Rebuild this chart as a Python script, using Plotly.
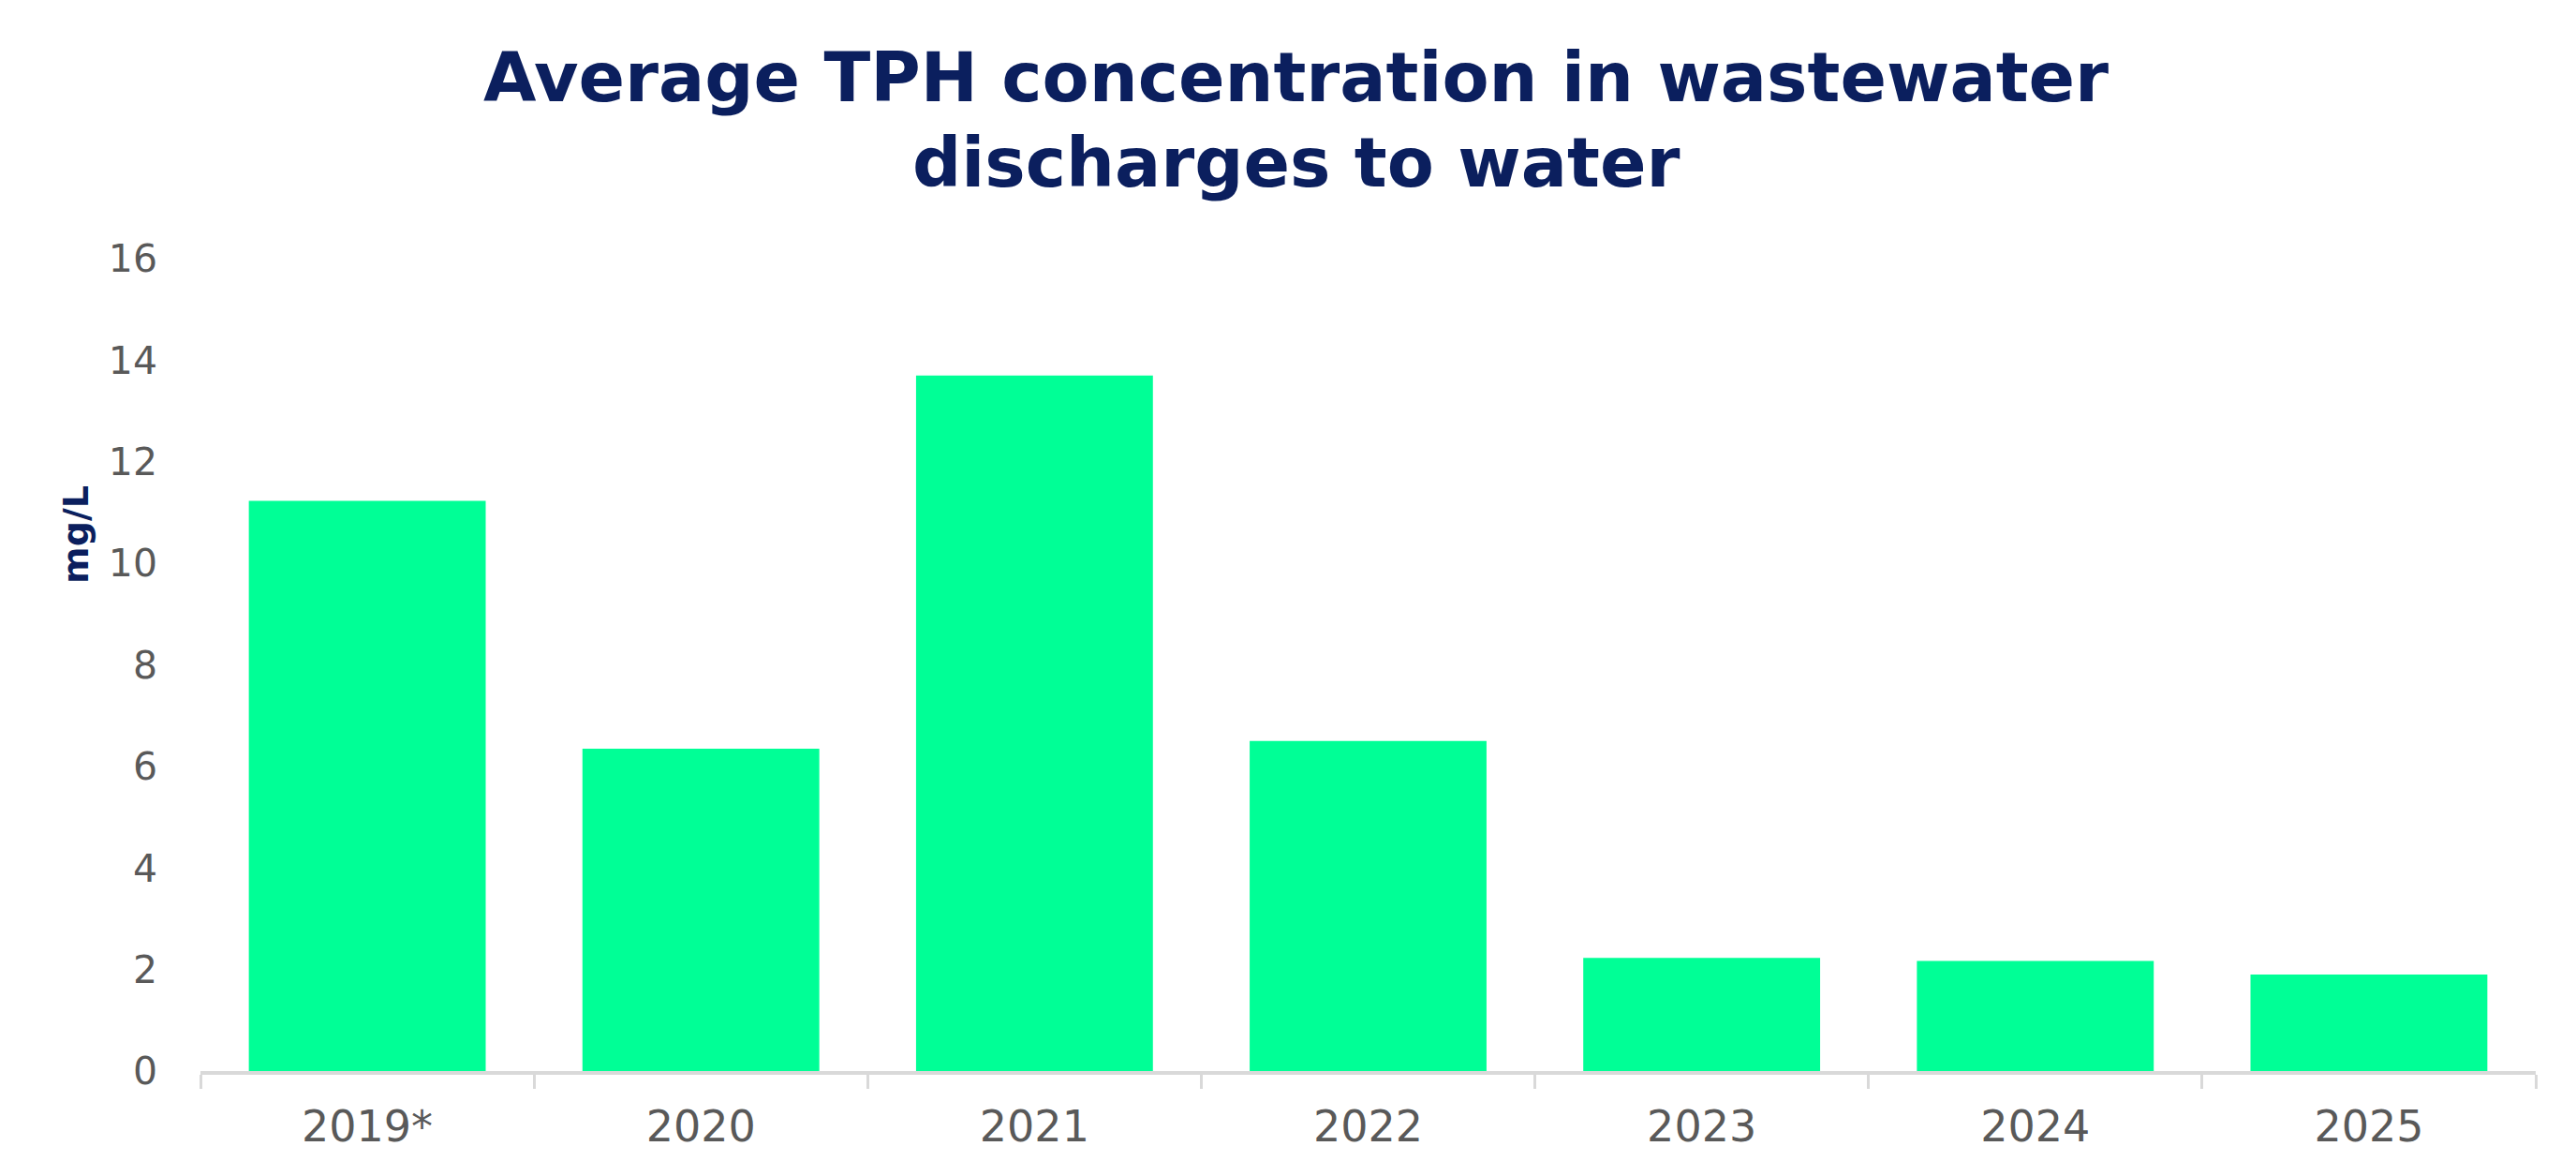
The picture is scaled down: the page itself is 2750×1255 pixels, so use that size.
import plotly.graph_objects as go

years = ["2019*", "2020", "2021", "2022", "2023", "2024", "2025"]
tph_mg_per_l = [11.23, 6.35, 13.7, 6.5, 2.23, 2.17, 1.9]
y_ticks = [0, 2, 4, 6, 8, 10, 12, 14, 16]
title_lines = ["Average TPH concentration in wastewater", "discharges to water"]
y_title = "mg/L"

NAVY = "#0B1F5E"
GREY = "#595959"
BAR = "#00FF96"
AXIS = "#D9D9D9"

fig = go.Figure(
    go.Bar(
        x=years,
        y=tph_mg_per_l,
        marker=dict(color=BAR, line=dict(width=0)),
        hoverinfo="x+y",
    )
)

title_font = dict(family="DejaVu Sans", size=73, color=NAVY, weight="bold")
annotations = [
    dict(text=title_lines[0], xref="paper", yref="paper", x=0.469, y=1.223,
         xanchor="center", yanchor="middle", showarrow=False, font=title_font),
    dict(text=title_lines[1], xref="paper", yref="paper", x=0.469, y=1.118,
         xanchor="center", yanchor="middle", showarrow=False, font=title_font),
    dict(text=y_title, xref="paper", yref="paper", x=-0.0533, y=0.66,
         xanchor="center", yanchor="middle", showarrow=False, textangle=-90,
         font=dict(family="DejaVu Sans", size=38, color=NAVY, weight="bold")),
]

fig.update_layout(
    width=2750,
    height=1255,
    paper_bgcolor="white",
    plot_bgcolor="white",
    bargap=0.29,
    showlegend=False,
    margin=dict(l=206, r=51, t=268, b=120, autoexpand=False),
    annotations=annotations,
    font=dict(family="DejaVu Sans", color=GREY),
)

fig.update_xaxes(
    type="category",
    showline=True,
    linecolor=AXIS,
    linewidth=4,
    ticks="outside",
    tickson="boundaries",
    ticklen=15,
    tickwidth=3,
    tickcolor=AXIS,
    tickfont=dict(family="DejaVu Sans", size=46, color=GREY),
    ticklabelstandoff=16,
    showgrid=False,
    automargin=False,
)

fig.update_yaxes(
    range=[0, 16],
    tickvals=y_ticks,
    showline=False,
    showgrid=False,
    zeroline=False,
    tickfont=dict(family="DejaVu Sans", size=41, color=GREY),
    ticklabelstandoff=45,
    automargin=False,
)

fig.write_html("out.html")
